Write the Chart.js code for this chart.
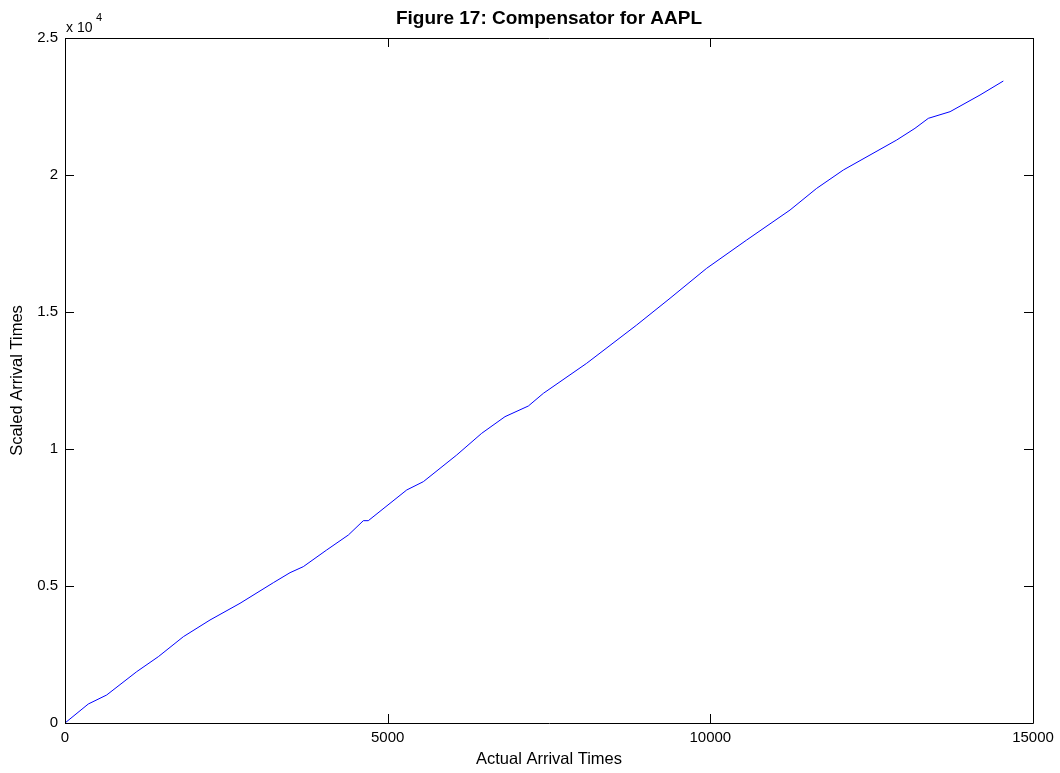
<!DOCTYPE html>
<html>
<head>
<meta charset="utf-8">
<script src="https://cdn.jsdelivr.net/npm/chart.js@4.4.0/dist/chart.umd.min.js"></script>
<style>
html,body{margin:0;padding:0;background:#fff;}
#wrap{width:1060px;height:773px;position:relative;}
</style>
</head>
<body>
<div id="wrap"><canvas id="c" width="1060" height="773"></canvas></div>
<script>
const titleText = "Figure 17: Compensator for AAPL";
const xAxisLabel = "Actual Arrival Times";
const yAxisLabel = "Scaled Arrival Times";
const xTicks = [0, 5000, 10000, 15000];
const yTicks = [0, 5000, 10000, 15000, 20000, 25000];
const actualTimes = [0, 361, 646, 1111, 1446, 1834, 2247, 2712, 3228, 3487, 3693, 4055, 4391, 4623, 4700, 5295, 5553, 6070, 6457, 6818, 7180, 7413, 8084, 8859, 9375, 9943, 10563, 11235, 11648, 12061, 12888, 13171, 13378, 13715, 14179, 14540];
const scaledTimes = [0, 693, 1022, 1873, 2420, 3150, 3759, 4368, 5120, 5486, 5706, 6314, 6861, 7384, 7384, 8504, 8808, 9781, 10573, 11180, 11569, 12032, 13128, 14525, 15500, 16595, 17627, 18722, 19513, 20182, 21277, 21703, 22068, 22311, 22919, 23430];

const points = actualTimes.map((x, i) => ({x: x, y: scaledTimes[i]}));
const FONT = "Arial, 'Liberation Sans', sans-serif";

const framePlugin = {
  id: 'frame',
  afterDraw(chart) {
    const ctx = chart.ctx;
    const a = chart.chartArea;
    const xs = chart.scales.x, ys = chart.scales.y;
    ctx.save();
    ctx.strokeStyle = '#000';
    ctx.lineWidth = 1;
    ctx.beginPath();
    ctx.rect(Math.round(a.left) + 0.5, Math.round(a.top) + 0.5, Math.round(a.right - a.left), Math.round(a.bottom - a.top));
    ctx.stroke();
    const tl = 9;
    ctx.beginPath();
    xTicks.forEach(v => {
      const px = Math.round(xs.getPixelForValue(v)) + 0.5;
      ctx.moveTo(px, a.bottom); ctx.lineTo(px, a.bottom - tl);
      ctx.moveTo(px, a.top); ctx.lineTo(px, a.top + tl);
    });
    yTicks.forEach(v => {
      const py = Math.round(ys.getPixelForValue(v)) + 0.5;
      ctx.moveTo(a.left, py); ctx.lineTo(a.left + tl, py);
      ctx.moveTo(a.right, py); ctx.lineTo(a.right - tl, py);
    });
    ctx.stroke();
    // title
    ctx.fillStyle = '#000';
    ctx.font = "bold 19px " + FONT;
    ctx.textAlign = 'center';
    ctx.textBaseline = 'alphabetic';
    ctx.fillText(titleText, (a.left + a.right) / 2, 24);
    // exponent
    ctx.font = "14px " + FONT;
    ctx.textAlign = 'left';
    ctx.fillText("x 10", a.left + 1, 32);
    ctx.font = "11px " + FONT;
    ctx.fillText("4", a.left + 31, 21);
    ctx.restore();
  }
};

new Chart(document.getElementById('c'), {
  type: 'line',
  data: {
    datasets: [{
      data: points,
      borderColor: '#0000ff',
      borderWidth: 1,
      pointRadius: 0,
      tension: 0,
      fill: false
    }]
  },
  options: {
    responsive: false,
    animation: false,
    devicePixelRatio: 1,
    layout: {padding: {top: 38, right: 27, left: 0, bottom: 0}},
    plugins: {legend: {display: false}, tooltip: {enabled: false}, title: {display: false}},
    scales: {
      x: {
        type: 'linear', min: 0, max: 15000,
        afterBuildTicks(s) { s.ticks = xTicks.map(v => ({value: v})); },
        afterFit(s) { s.height = 50; },
        grid: {display: false, drawTicks: false},
        border: {display: false},
        ticks: {color: '#000', font: {family: FONT, size: 15}, padding: 6, maxRotation: 0,
          callback: v => String(v)},
        title: {display: true, text: xAxisLabel, color: '#000', font: {family: FONT, size: 16.5}, padding: {top: 0, bottom: 4}}
      },
      y: {
        type: 'linear', min: 0, max: 25000,
        afterBuildTicks(s) { s.ticks = yTicks.map(v => ({value: v})); },
        afterFit(s) { s.width = 65; },
        grid: {display: false, drawTicks: false},
        border: {display: false},
        ticks: {color: '#000', font: {family: FONT, size: 15}, padding: 7,
          callback: v => String(v / 10000)},
        title: {display: true, text: yAxisLabel, color: '#000', font: {family: FONT, size: 16.5}, padding: {top: 8, bottom: 0}}
      }
    }
  },
  plugins: [framePlugin]
});
</script>
</body>
</html>
